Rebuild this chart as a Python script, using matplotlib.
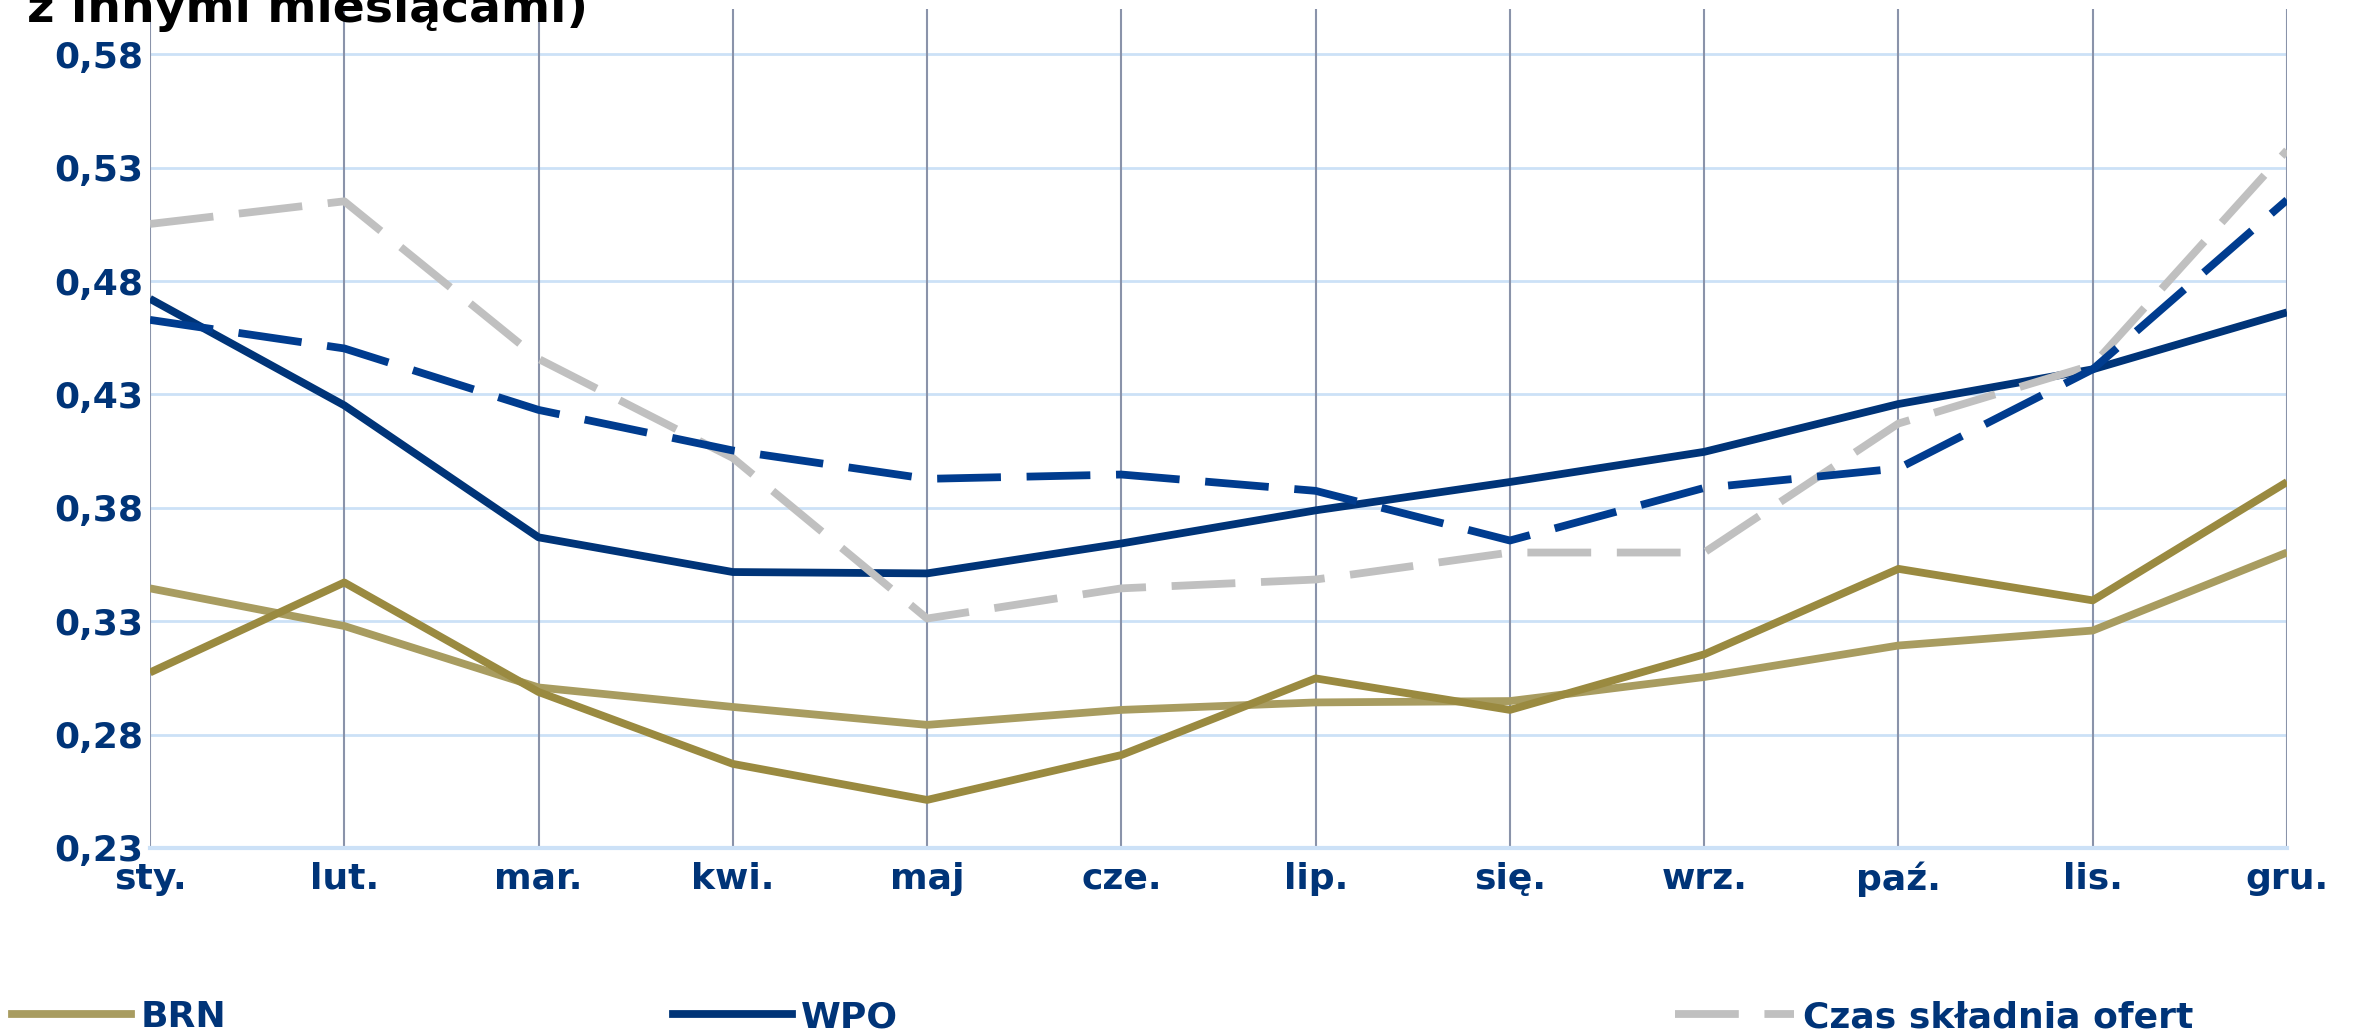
import numpy as np
import matplotlib.pyplot as plt
from matplotlib.lines import Line2D
from matplotlib.ticker import FuncFormatter

MONTHS = ["sty.", "lut.", "mar.", "kwi.", "maj", "cze.", "lip.", "się.",
          "wrz.", "paź.", "lis.", "gru."]

BRN = [0.3445, 0.3279, 0.3008, 0.2922, 0.2843, 0.2909, 0.2942, 0.2948,
       0.3054, 0.3193, 0.3259, 0.3603]
BRN_2 = [0.3074, 0.3471, 0.2988, 0.2671, 0.2512, 0.2710, 0.3048, 0.2909,
         0.3154, 0.3531, 0.3392, 0.3914]
WPO = [0.4722, 0.4252, 0.3670, 0.3517, 0.3511, 0.3643, 0.3789, 0.3914,
       0.4047, 0.4258, 0.4411, 0.4662]
WPO_2 = [0.4629, 0.4503, 0.4232, 0.4053, 0.3928, 0.3947, 0.3875, 0.3656,
         0.3888, 0.3974, 0.4411, 0.5158]
CZAS = [0.5052, 0.5152, 0.4457, 0.4020, 0.3312, 0.3445, 0.3484, 0.3603,
        0.3603, 0.4172, 0.4430, 0.5377]

Y_TICKS = [0.23, 0.28, 0.33, 0.38, 0.43, 0.48, 0.53, 0.58]

NAVY = "#003478"
BLUE = "#003c8f"
OLIVE_LIGHT = "#a89c60"
OLIVE_DARK = "#9a8a40"
GRAY = "#c0c0c0"
LW = 5.6
DASH = (8.2, 3.3)
FS = 26


def main():
    fig = plt.figure(figsize=(23.54, 10.33), dpi=100)
    ax = fig.add_axes([150 / 2354, 1 - 848 / 1033, (2287 - 150) / 2354, (848 - 9) / 1033])

    x = np.arange(len(MONTHS))
    ax.plot(x, BRN, color=OLIVE_LIGHT, lw=LW, solid_capstyle="butt", zorder=3)
    ax.plot(x, BRN_2, color=OLIVE_DARK, lw=LW, solid_capstyle="butt", zorder=3)
    ax.plot(x, WPO, color=NAVY, lw=LW, solid_capstyle="butt", zorder=3)
    ax.plot(x, CZAS, color=GRAY, lw=LW, dashes=DASH, dash_capstyle="butt", zorder=3)
    ax.plot(x, WPO_2, color=BLUE, lw=LW, dashes=DASH, dash_capstyle="butt", zorder=4)

    ax.set_xlim(0, len(MONTHS) - 1)
    ax.set_ylim(0.23, 0.60)
    ax.set_xticks(x)
    ax.set_xticklabels(MONTHS)
    ax.set_yticks(Y_TICKS)
    ax.yaxis.set_major_formatter(FuncFormatter(lambda v, p: f"{v:.2f}".replace(".", ",")))

    for y in Y_TICKS[1:]:
        ax.axhline(y, color="#cce1f7", lw=2, zorder=1)
    for xi in x:
        ax.axvline(xi, color="#8a93aa", lw=1.5, zorder=1)

    for s in ["top", "right", "left"]:
        ax.spines[s].set_visible(False)
    ax.spines["bottom"].set_color("#cce1f7")
    ax.spines["bottom"].set_linewidth(3)
    ax.tick_params(length=0, labelsize=FS, labelcolor=NAVY, pad=5)
    ax.tick_params(axis="x", pad=10)
    for lab in ax.get_xticklabels() + ax.get_yticklabels():
        lab.set_fontweight("bold")

    fig.text(27 / 2354, 1 - 22 / 1033, "z innymi miesiącami)", fontsize=34,
             fontweight="bold", color="black", va="baseline", ha="left")

    entries = [
        (Line2D([], [], color=OLIVE_LIGHT, lw=LW), "BRN", 12 / 2354),
        (Line2D([], [], color=NAVY, lw=LW), "WPO", 673 / 2354),
        (Line2D([], [], color=GRAY, lw=LW, dashes=DASH), "Czas składnia ofert", 1675 / 2354),
    ]
    for handle, label, xpos in entries:
        leg = fig.legend([handle], [label], loc="center left",
                         bbox_to_anchor=(xpos, 1 - 1017 / 1033),
                         frameon=False, handlelength=3.3, handletextpad=0.25,
                         borderaxespad=0, borderpad=0,
                         prop={"size": FS, "weight": "bold"})
        for t in leg.get_texts():
            t.set_color(NAVY)

    fig.savefig("out.png", dpi=100)


if __name__ == "__main__":
    main()
